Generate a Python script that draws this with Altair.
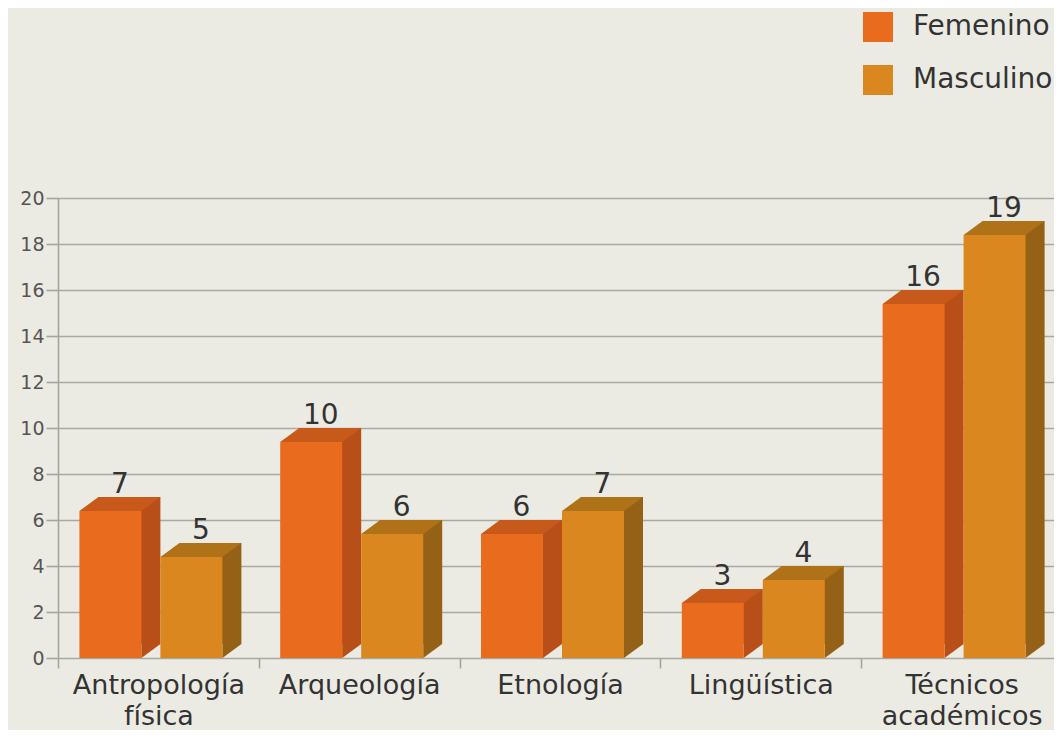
import altair as alt
import pandas as pd

categorias = ["Antropología física", "Arqueología", "Etnología", "Lingüística", "Técnicos académicos"]
generos = ["Femenino", "Masculino"]
femenino = [7, 10, 6, 3, 16]
masculino = [5, 6, 7, 4, 19]
y_ticks = [0, 2, 4, 6, 8, 10, 12, 14, 16, 18, 20]

df = pd.DataFrame({
    "categoria": categorias * 2,
    "genero": [generos[0]] * len(categorias) + [generos[1]] * len(categorias),
    "valor": femenino + masculino,
})

FONT = "DejaVu Sans"
frente = ["#e96b1e", "#d9871e"]
lado = ["#b94f18", "#956116"]
techo = ["#c75a1b", "#b07219"]
desplaz = [-48, 33]      # pixel shift of each gender's front face from the band centre

DX, DY = 19, 14          # 3D depth in pixels
BW = 62                  # front face width
HALF_BW = BW / 2
PLOT_W = 996             # visible plot width (page is cut on the right)
BAND_RANGE = 1004        # the category bands run slightly past the visible edge

x_enc = alt.X(
    "categoria:N", sort=categorias,
    scale=alt.Scale(paddingInner=0, paddingOuter=0, range=[0, BAND_RANGE]),
    axis=alt.Axis(title=None, domain=False, ticks=True, tickBand="extent", tickSize=10,
                  tickColor="#a4a49e", tickWidth=1.6, labelAngle=0, labelFontSize=27,
                  labelColor="#333333", labelPadding=4, labelLineHeight=31, labelLimit=0,
                  labelExpr="split(datum.label, ' ')", grid=False, labelFont=FONT),
)
y_enc = alt.Y(
    "valor:Q", stack=None,
    scale=alt.Scale(domain=[0, 20], nice=False),
    axis=alt.Axis(title=None, values=y_ticks, labelFontSize=19, labelColor="#555555",
                  labelPadding=2, tickSize=12, tickColor="#a4a49e", tickWidth=1.6,
                  domainColor="#a4a49e", domainWidth=1.6, gridColor="#a9a9a3",
                  gridWidth=1.6, labelFont=FONT),
)

color_front = alt.Color(
    "genero:N", scale=alt.Scale(domain=generos, range=frente),
    legend=alt.Legend(title=None, orient="none", legendX=805, legendY=-186,
                      symbolType="square", symbolSize=900, symbolStrokeWidth=0,
                      symbolOpacity=1, labelFontSize=28, labelColor="#333333",
                      labelFont=FONT, labelOffset=20, rowPadding=23, padding=0),
)

layers = []
for g, genero in enumerate(generos):
    base = alt.Chart(df).transform_filter(alt.datum.genero == genero)
    off = desplaz[g]

    side = base.mark_bar(width=BW, xOffset=off + DX, y2Offset=-DY, color=lado[g]).encode(
        x=x_enc, y=y_enc, y2=alt.Y2(datum=0),
    )
    tri = base.mark_point(
        shape="M-1,0.737L-1,-0.737L1,-0.737Z", size=DX * DX, filled=True, opacity=1,
        strokeWidth=0, xOffset=off + HALF_BW + DX / 2, yOffset=-DY / 2, color=lado[g],
    ).encode(x=x_enc, y=alt.Y(datum=0))
    front = base.mark_bar(width=BW, xOffset=off, yOffset=DY).encode(
        x=x_enc, y=y_enc, y2=alt.Y2(datum=0), color=color_front,
    )
    top = base.mark_point(
        shape="M-1,0.173L0.531,0.173L1,-0.173L-0.531,-0.173Z", size=81 * 81, filled=True,
        opacity=1, strokeWidth=0, xOffset=off + DX / 2, yOffset=DY / 2, color=techo[g],
    ).encode(x=x_enc, y=y_enc)
    labels = base.mark_text(
        dx=off + DX / 2, dy=-4, baseline="alphabetic", fontSize=28, color="#333333", font=FONT,
    ).encode(x=x_enc, y=y_enc, text="valor:Q")
    layers += [side, tri, front, top, labels]

chart = alt.layer(*layers).properties(
    width=PLOT_W, height=460, background="#ecebe3",
    padding={"left": 50, "top": 190, "right": 0, "bottom": 72},
    autosize=alt.AutoSizeParams(type="none"),
).configure(font=FONT).configure_view(stroke=None)

chart.save("out.html", embed_options={"renderer": "svg", "actions": False})
